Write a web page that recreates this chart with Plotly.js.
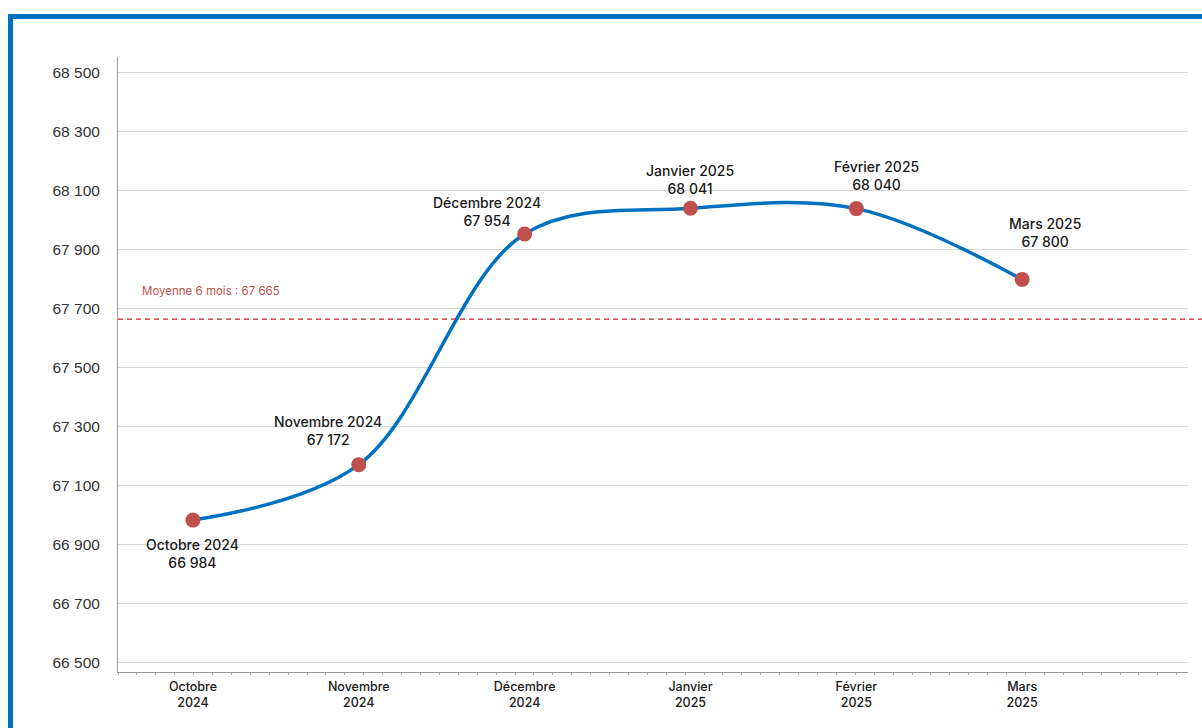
<!DOCTYPE html>
<html><head><meta charset="utf-8">
<script src="https://cdn.plot.ly/plotly-3.0.1.min.js"></script>
<style>
html,body{margin:0;padding:0;background:#fff;}
#frame{position:absolute;left:8px;top:14px;width:1194px;height:714px;border-top:5px solid #0070C0;border-left:5px solid #0070C0;box-sizing:border-box;}
#chart{position:absolute;left:0;top:0;width:1202px;height:728px;}
</style></head>
<body>
<div id="frame"></div>
<div id="chart"></div>
<script>
const categories = ["Octobre 2024","Novembre 2024","Décembre 2024","Janvier 2025","Février 2025","Mars 2025"];
const values = [66984, 67172, 67954, 68041, 68040, 67800];
const yTicks = [66500, 66700, 66900, 67100, 67300, 67500, 67700, 67900, 68100, 68300, 68500];
const labelOffsets = [[0, 33], [-31, -34], [-38, -22], [0, -29], [20, -33], [23, -47]];

const fmt = v => String(Math.round(v)).replace(/\B(?=(\d{3})+(?!\d))/g, " ");
const xs = categories.map((_, i) => i);
const mean = values.reduce((a, b) => a + b, 0) / values.length;

const trace = {
  x: xs, y: values, type: 'scatter', mode: 'lines+markers',
  line: {color: '#0070C0', width: 3.5, shape: 'spline', smoothing: 1},
  marker: {color: '#C0504D', size: 15},
  hoverinfo: 'skip'
};

const annotations = categories.map((c, i) => ({
  x: i, y: values[i], xref: 'x', yref: 'y', showarrow: false,
  text: c + '<br>' + fmt(values[i]),
  xshift: labelOffsets[i][0], yshift: -labelOffsets[i][1],
  font: {family: 'Inter, "Noto Sans", sans-serif', size: 14, color: '#1a1a1a', weight: 500},
  align: 'center'
}));
annotations.push({
  x: 0.021, xref: 'paper', y: mean, yref: 'y', yshift: 28, xanchor: 'left', showarrow: false,
  text: 'Moyenne 6 mois : ' + fmt(mean),
  font: {family: 'Inter, "Noto Sans", sans-serif', size: 11.5, color: '#C0504D'}
});

const layout = {
  width: 1202, height: 728,
  margin: {l: 118, r: 14, t: 57, b: 56},
  paper_bgcolor: 'rgba(0,0,0,0)', plot_bgcolor: 'rgba(0,0,0,0)',
  showlegend: false,
  xaxis: {
    range: [-0.452, 6.0],
    tickvals: xs,
    ticktext: categories.map(c => c.replace(' ', '<br>')),
    showgrid: false, zeroline: false,
    showline: true, linecolor: '#999', linewidth: 1,
    ticks: 'outside', ticklen: 3, tickcolor: 'rgba(0,0,0,0)',
    tickfont: {family: 'Inter, "Noto Sans", sans-serif', size: 12.5, color: '#1a1a1a', weight: 500},
    minor: {ticks: 'outside', ticklen: 2, tickcolor: '#aaa', dtick: 0.114, tick0: -0.452, showgrid: false}
  },
  yaxis: {
    range: [66469, 68554],
    tickvals: yTicks, ticktext: yTicks.map(fmt),
    showgrid: true, gridcolor: '#d9d9d9', gridwidth: 1,
    zeroline: false, showline: true, linecolor: '#999', linewidth: 1,
    ticks: 'outside', ticklen: 14, tickcolor: 'rgba(0,0,0,0)',
    tickfont: {family: '"Liberation Sans", Arial, sans-serif', size: 15.5, color: '#333'}
  },
  shapes: [{
    type: 'line', xref: 'paper', yref: 'y', x0: 0, x1: 1.013, y0: mean, y1: mean,
    line: {color: '#C8202E', width: 1.2, dash: '5px,4px'}
  }],
  annotations: annotations
};

Plotly.newPlot('chart', [trace], layout, {displayModeBar: false, staticPlot: true});
</script>
</body></html>
